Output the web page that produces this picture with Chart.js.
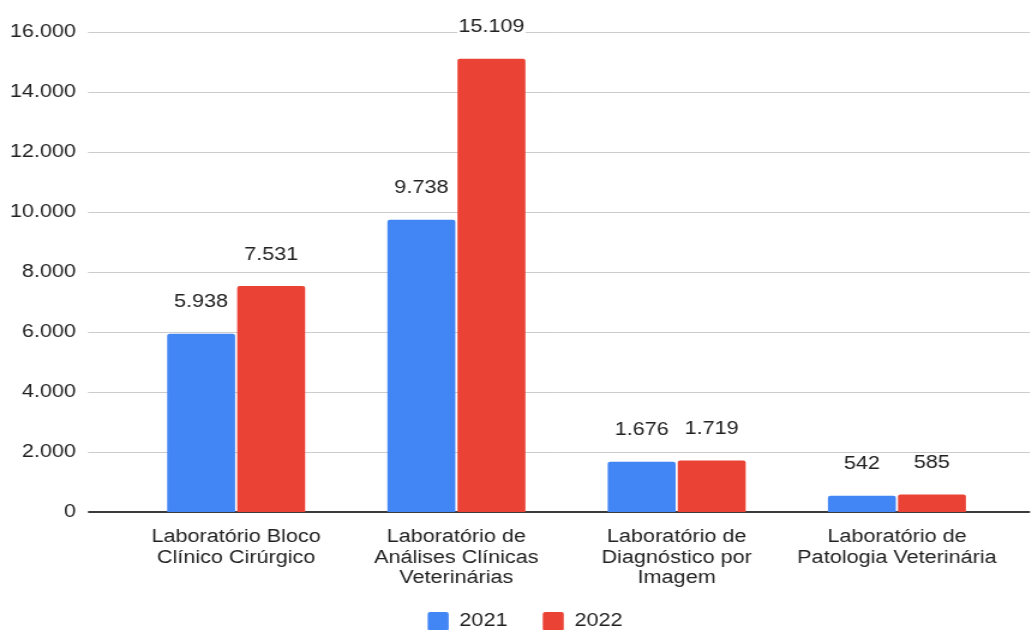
<!DOCTYPE html>
<html lang="pt-BR">

<head>
    <meta charset="UTF-8">
    <title>Laboratórios</title>
    <style>
        html, body {
            margin: 0;
            padding: 0;
            background: #fff;
            overflow: hidden;
        }
        #chart {
            width: 1032px;
            height: 630px;
            overflow: hidden;
        }
        /* the source picture is stretched sideways, so the chart is too */
        #box {
            width: 860px;
            height: 641px;
            transform: scaleX(1.2);
            transform-origin: 0 0;
        }
    </style>
</head>

<body>
    <div id="chart">
        <div id="box">
            <canvas id="myChart" width="860" height="641" style="width:860px;height:641px"></canvas>
        </div>
    </div>
    <script src="https://cdn.jsdelivr.net/npm/chart.js@4"></script>
    <script>
        // data
        let labs = [
            ["Laboratório Bloco", "Clínico Cirúrgico"],
            ["Laboratório de", "Análises Clínicas", "Veterinárias"],
            ["Laboratório de", "Diagnóstico por", "Imagem"],
            ["Laboratório de", "Patologia Veterinária"]
        ]
        let seriesNames = ["2021", "2022"]
        let values2021 = [5938, 9738, 1676, 542]
        let values2022 = [7531, 15109, 1719, 585]
        let yTicks = [0, 2000, 4000, 6000, 8000, 10000, 12000, 14000, 16000]

        const txt = "#222222"
        const font = "'Liberation Sans', Arial, sans-serif"
        const fs = 18

        // 16000 -> "16.000"
        function fmt(v) {
            return String(v).replace(/\B(?=(\d{3})+(?!\d))/g, ".")
        }

        // let the 3-line x labels run into the legend band (no clipping),
        // and nudge the legend a bit to the right like the original
        const layoutPlugin = {
            id: "lay",
            afterLayout(chart) {
                chart.scales.x.bottom = chart.height
                chart.legend.left += 18
                chart.legend.right += 18
            }
        }

        // gridlines run past the plot area, like in the sheet export
        const gridPlugin = {
            id: "grid",
            beforeDatasetsDraw(chart) {
                const y = chart.scales.y
                const ctx = chart.ctx
                const x0 = chart.chartArea.left - 31.7
                const x1 = chart.width - 1.7
                ctx.save()
                yTicks.forEach(t => {
                    const py = Math.round(y.getPixelForValue(t))
                    ctx.beginPath()
                    if (t === 0) {
                        ctx.strokeStyle = "#3a3a3a"
                        ctx.lineWidth = 2
                        ctx.moveTo(x0, py)
                        ctx.lineTo(x1, py)
                    } else {
                        ctx.strokeStyle = "#cccccc"
                        ctx.lineWidth = 1
                        ctx.moveTo(x0, py + 0.5)
                        ctx.lineTo(x1, py + 0.5)
                    }
                    ctx.stroke()
                })
                ctx.restore()
            }
        }

        // value labels above each bar, with white backing
        const labelPlugin = {
            id: "vals",
            afterDatasetsDraw(chart) {
                const ctx = chart.ctx
                ctx.save()
                ctx.font = fs + "px " + font
                ctx.textAlign = "center"
                ctx.textBaseline = "middle"
                chart.data.datasets.forEach((ds, i) => {
                    chart.getDatasetMeta(i).data.forEach((bar, j) => {
                        const s = fmt(ds.data[j])
                        const w = ctx.measureText(s).width
                        const cy = bar.y - 31.5
                        ctx.fillStyle = "#ffffff"
                        ctx.fillRect(bar.x - w / 2 - 1, cy - 9, w + 2, 18)
                        ctx.fillStyle = txt
                        ctx.fillText(s, bar.x, cy)
                    })
                })
                ctx.restore()
            }
        }

        const ctx = document.getElementById("myChart")
        const chart = new Chart(ctx, {
            type: "bar",
            data: {
                labels: labs,
                datasets: [
                    {
                        label: seriesNames[0],
                        data: values2021,
                        backgroundColor: "#4285F4",
                        borderRadius: { topLeft: 2, topRight: 2 },
                        borderSkipped: "bottom"
                    },
                    {
                        label: seriesNames[1],
                        data: values2022,
                        backgroundColor: "#EA4335",
                        borderRadius: { topLeft: 2, topRight: 2 },
                        borderSkipped: "bottom"
                    }
                ]
            },
            options: {
                responsive: false,
                animation: false,
                devicePixelRatio: 1,
                layout: {
                    padding: { left: 0, right: 20.8, top: 32, bottom: 0 }
                },
                datasets: {
                    bar: {
                        categoryPercentage: 0.636,
                        barPercentage: 0.97
                    }
                },
                scales: {
                    x: {
                        grid: { display: false, drawTicks: false },
                        border: { display: false },
                        ticks: {
                            color: txt,
                            font: { family: font, size: fs, lineHeight: 1.14 },
                            padding: 15,
                            maxRotation: 0,
                            autoSkip: false
                        },
                        afterFit(scale) {
                            scale.height = 70.6
                        }
                    },
                    y: {
                        min: 0,
                        max: 16000,
                        afterBuildTicks(scale) {
                            scale.ticks = yTicks.map(v => ({ value: v }))
                        },
                        grid: { display: false, drawTicks: false },
                        border: { display: false },
                        ticks: {
                            color: txt,
                            font: { family: font, size: fs },
                            padding: 41.7,
                            callback: v => fmt(v)
                        },
                        afterFit(scale) {
                            scale.width = 105
                            scale.paddingTop = 10
                            scale.paddingBottom = 10
                        }
                    }
                },
                plugins: {
                    legend: {
                        position: "bottom",
                        labels: {
                            color: txt,
                            font: { family: font, size: fs },
                            boxWidth: 17.5,
                            boxHeight: 19,
                            padding: 29.4,
                            useBorderRadius: true,
                            borderRadius: 2
                        }
                    },
                    tooltip: { enabled: false }
                }
            },
            plugins: [layoutPlugin, gridPlugin, labelPlugin]
        })
    </script>
</body>

</html>
